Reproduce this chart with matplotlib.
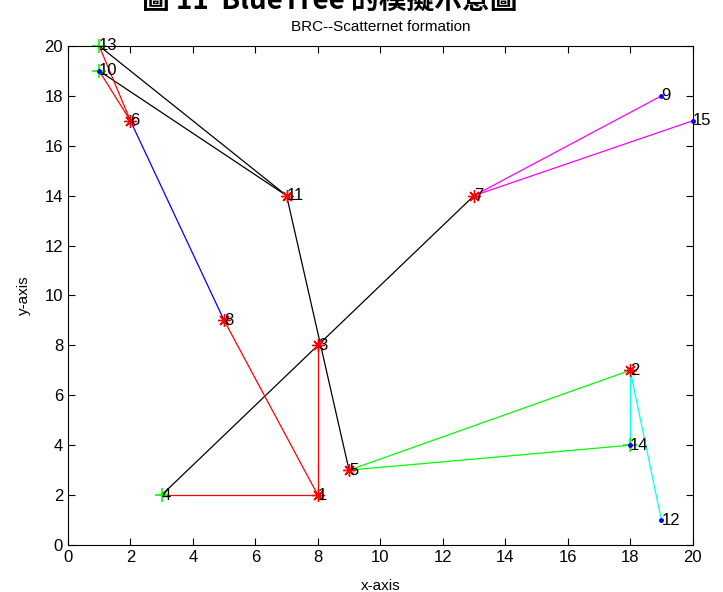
import matplotlib.pyplot as plt

plt.rcParams['font.family'] = ['Liberation Sans', 'DejaVu Sans']

# node positions (id -> x, y)
node_ids = [1, 2, 3, 4, 5, 6, 7, 8, 9, 10, 11, 12, 13, 14, 15]
node_x = [8, 18, 8, 3, 9, 2, 13, 5, 19, 1, 7, 19, 1, 18, 20]
node_y = [2, 7, 8, 2, 3, 17, 14, 9, 18, 19, 14, 1, 20, 4, 17]

# roles
masters = [1, 2, 3, 5, 6, 7, 8, 11]
bridges = [4, 10, 13, 14]
slaves = [9, 10, 12, 14, 15]

# links, grouped by colour
links_red = [(13, 6), (10, 6), (8, 1), (1, 3), (4, 1)]
links_blue = [(6, 8)]
links_black = [(13, 11), (10, 11), (11, 5), (4, 3), (3, 7)]
links_magenta = [(7, 9), (7, 15)]
links_green = [(5, 2), (5, 14)]
links_cyan = [(2, 14), (2, 12)]

pos = {n: (x, y) for n, x, y in zip(node_ids, node_x, node_y)}


def draw_links(ax, links, color):
    for a, b in links:
        ax.plot([pos[a][0], pos[b][0]], [pos[a][1], pos[b][1]], color=color, lw=0.9)


fig = plt.figure(figsize=(7.23, 5.92), dpi=100)
ax = fig.add_axes([0.094, 0.0794, 0.864, 0.843])

draw_links(ax, links_black, 'k')
draw_links(ax, links_red, (1, 0, 0))
draw_links(ax, links_blue, (0, 0, 1))
draw_links(ax, links_magenta, (1, 0, 1))
draw_links(ax, links_green, (0, 1, 0))
draw_links(ax, links_cyan, (0, 1, 1))

# MATLAB-style asterisk, plus and point markers
ax.plot([pos[n][0] for n in masters], [pos[n][1] for n in masters], color='r',
        marker=(8, 2, 0), ms=9, mew=1.0, ls='none', clip_on=False)
ax.plot([pos[n][0] for n in bridges], [pos[n][1] for n in bridges], '+', color=(0, 1, 0),
        ms=10, mew=1.2, ls='none', clip_on=False)
ax.plot([pos[n][0] for n in slaves], [pos[n][1] for n in slaves], '.', color='b',
        ms=5, ls='none', clip_on=False)

for n in node_ids:
    ax.text(pos[n][0], pos[n][1], str(n), fontsize=12, ha='left', va='center')

ax.set_xlim(0, 20)
ax.set_ylim(0, 20)
ax.set_xticks(range(0, 21, 2))
ax.set_yticks(range(0, 21, 2))
ax.tick_params(direction='in', top=True, right=True, labelsize=12, length=5)
ax.set_xlabel('x-axis', fontsize=11, labelpad=10)
ax.set_ylabel('y-axis', fontsize=11, labelpad=10)
ax.set_title('BRC--Scatternet formation', fontsize=11, pad=11)

fig.text(0.456, 0.998, '圖 11  BlueTree 的模擬示意圖', fontsize=20, fontweight='bold',
         ha='center', va='center', family=['Noto Sans CJK TC', 'DejaVu Sans'])

fig.savefig('out.png', dpi=100)
